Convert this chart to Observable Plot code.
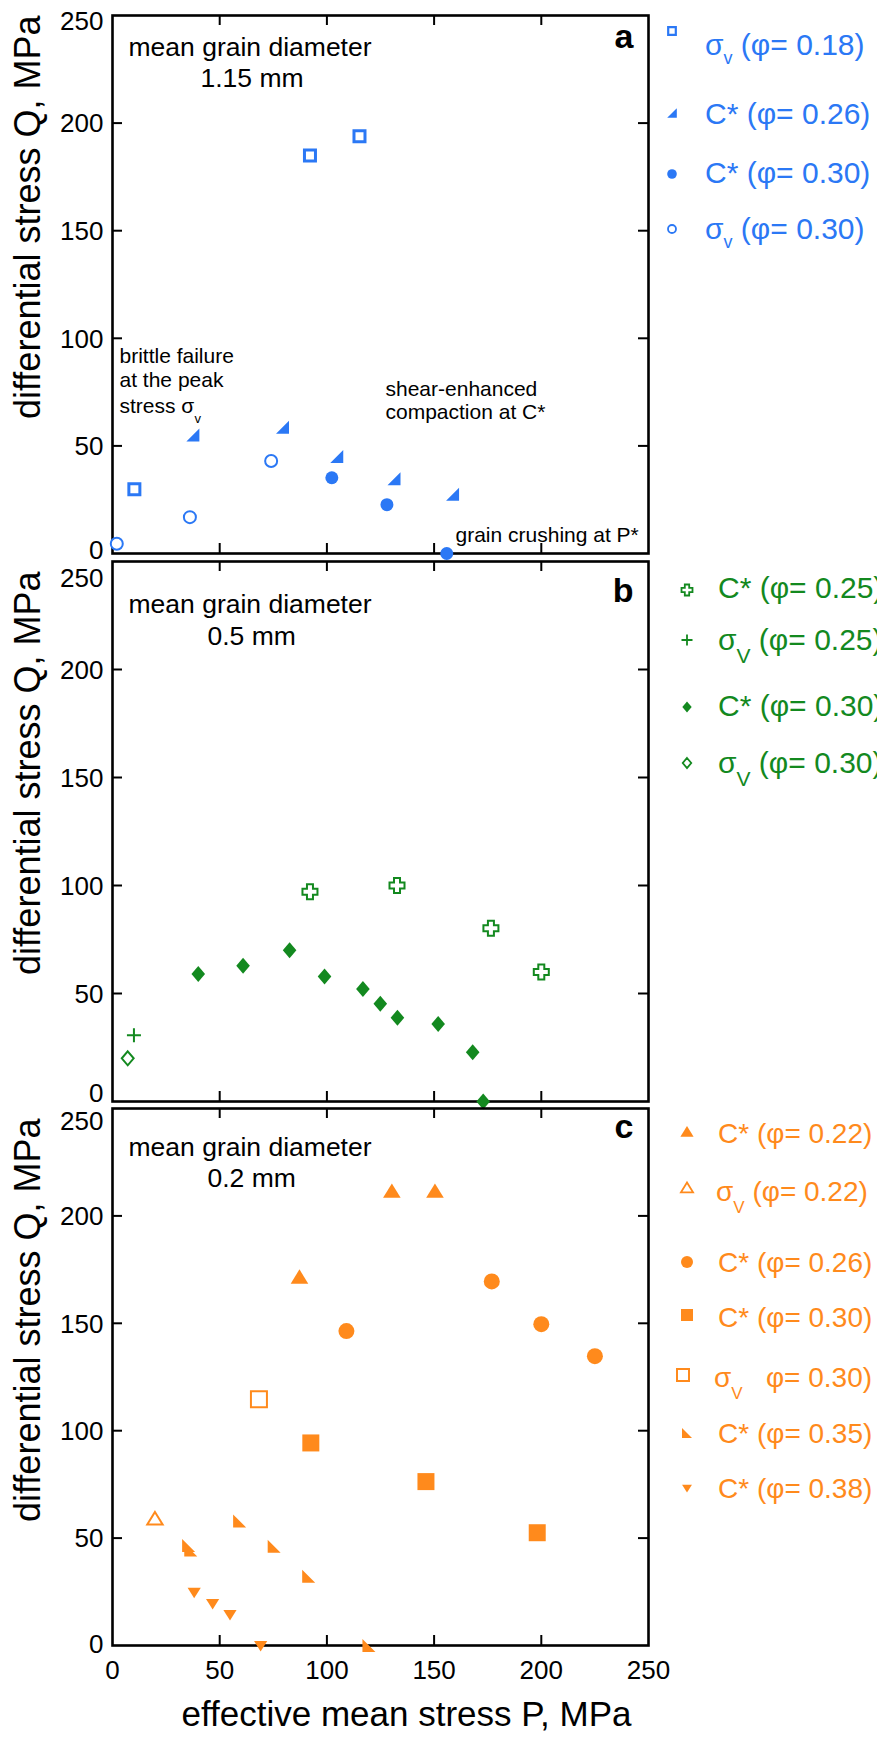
<!DOCTYPE html>
<html>
<head>
<meta charset="utf-8">
<script src="https://cdn.jsdelivr.net/npm/d3@7"></script>
<script src="https://cdn.jsdelivr.net/npm/@observablehq/plot@0.6"></script>
<style>
html,body{margin:0;padding:0;background:#fff;overflow:hidden;}
#root{position:relative;width:877px;height:1739px;overflow:hidden;}
#root svg.panel{position:absolute;left:0;overflow:visible;background:transparent;}
.lg{position:absolute;white-space:nowrap;font-family:"Liberation Sans",Arial,Helvetica,sans-serif;line-height:1.2;}
.lg .sub{position:relative;}
.lm{position:absolute;overflow:visible;}
</style>
</head>
<body>
<div id="root"></div>
<script>
// ---------------- data (x = effective mean stress P, y = differential stress Q, MPa) ----------------
const xTicks = [0, 50, 100, 150, 200, 250];
const yTicks = [0, 50, 100, 150, 200, 250];

// panel a : mean grain diameter 1.15 mm
const aSigma018 = [[10.2, 29.9], [92.1, 184.9], [115.2, 193.9]];
const aCstar026 = [[37.5, 55.1], [79.3, 58.7], [104.6, 45.1], [131.3, 34.7], [158.6, 27.5]];
const aCstar030 = [[102.3, 35.2], [128.0, 22.7], [155.9, 0]];
const aSigma030 = [[2.0, 4.5], [36.1, 16.9], [74.0, 43.0]];

// panel b : mean grain diameter 0.5 mm
const bCstar025 = [[92.1, 97.1], [132.7, 100], [176.5, 80.2], [200, 60]];
const bSigma025 = [[10.0, 30.7]];
const bCstar030 = [[40, 59], [60.9, 62.8], [82.6, 70], [98.9, 57.9], [116.8, 52.1], [124.9, 45.2], [132.9, 38.8], [151.9, 35.9], [168, 22.8], [172.9, 0]];
const bSigma030 = [[7.1, 20]];

// panel c : mean grain diameter 0.2 mm
const cCstar022 = [[87.2, 171.4], [130.3, 211.4], [150.4, 211.4]];
const cSigma022 = [[19.8, 58.9]];
const cCstar026 = [[109.1, 146.4], [176.9, 169.5], [200, 149.6], [225, 134.7]];
const cCstar030 = [[92.5, 94.3], [146.2, 76.3], [198.1, 52.5]];
const cSigma030 = [[68.3, 114.6]];
const cCstar035 = [[35.5, 46.5], [36.5, 44.5], [59.3, 58], [75.4, 46.2], [91.5, 32.2], [119.6, 0]];
const cCstar038 = [[38.1, 24.8], [46.7, 19.5], [54.8, 14.4], [69.1, 0]];

// ---------------- styles ----------------
const FONT = '"Liberation Sans", Arial, Helvetica, sans-serif';
const BLUE = "#2b78f5", GREEN = "#13891f", ORANGE = "#ff8a1c";

const sym = (f) => ({draw(ctx, size) { const r = Math.sqrt(size / Math.PI); f(ctx, r); }});
const S = {
  circle: sym((c, r) => { c.moveTo(r, 0); c.arc(0, 0, r, 0, 2 * Math.PI); c.closePath(); }),
  square: sym((c, r) => { c.rect(-r, -r, 2 * r, 2 * r); }),
  triUp: sym((c, r) => { c.moveTo(0, -r); c.lineTo(r * 1.1, r * 0.8); c.lineTo(-r * 1.1, r * 0.8); c.closePath(); }),
  triDown: sym((c, r) => { c.moveTo(0, r); c.lineTo(r * 1.1, -r * 0.75); c.lineTo(-r * 1.1, -r * 0.75); c.closePath(); }),
  wedgeR: sym((c, r) => { c.moveTo(r, -r); c.lineTo(r, r); c.lineTo(-r, r); c.closePath(); }),
  wedgeL: sym((c, r) => { c.moveTo(-r, -r); c.lineTo(-r, r); c.lineTo(r, r); c.closePath(); }),
  diamond: sym((c, r) => { c.moveTo(0, -r); c.lineTo(r * 0.85, 0); c.lineTo(0, r); c.lineTo(-r * 0.85, 0); c.closePath(); }),
  plus: sym((c, r) => { c.moveTo(-r, 0); c.lineTo(r, 0); c.moveTo(0, -r); c.lineTo(0, r); }),
  crossO: sym((c, r) => { const a = r * 0.4;
    c.moveTo(-a, -r); c.lineTo(a, -r); c.lineTo(a, -a); c.lineTo(r, -a); c.lineTo(r, a); c.lineTo(a, a);
    c.lineTo(a, r); c.lineTo(-a, r); c.lineTo(-a, a); c.lineTo(-r, a); c.lineTo(-r, -a); c.lineTo(-a, -a); c.closePath(); })
};

// series config: style + legend placement (page coordinates)
const panels = [
  {
    svgTop: 0, plotH: 538, mb: 10, titleShift: 0, labelShift: {0: -4, 250: 5},
    letter: "a", letterDy: 32,
    annotations: [
      {t: "mean grain diameter", dx: 16, dy: 40, fs: 26.5},
      {t: "1.15 mm", dx: 88, dy: 71, fs: 26.5},
      {t: "brittle failure", dx: 7, dy: 347, fs: 21},
      {t: "at the peak", dx: 7, dy: 371, fs: 21},
      {t: "stress σ", dx: 7, dy: 397, fs: 21},
      {t: "v", dx: 82, dy: 407, fs: 13},
      {t: "shear-enhanced", dx: 273, dy: 380, fs: 21},
      {t: "compaction at C*", dx: 273, dy: 403, fs: 21},
      {t: "grain crushing at P*", dx: 343, dy: 526, fs: 21}
    ],
    color: BLUE, legendFs: 30, sub: {fs: 18, shift: 9},
    series: [
      {data: aSigma018, sym: "square", r: 5.5, hollow: true, sw: 3, label: ["σ", "v", " (φ= 0.18)"], m: [672, 31, 3.8, 2.2], t: [705, 45]},
      {data: aCstar026, sym: "wedgeR", r: 6.5, label: ["C* (φ= 0.26)"], m: [672, 113, 4.8], t: [705, 114]},
      {data: aCstar030, sym: "circle", r: 6.5, label: ["C* (φ= 0.30)"], m: [672, 174, 4.8], t: [705, 173]},
      {data: aSigma030, sym: "circle", r: 6, hollow: true, sw: 2, label: ["σ", "v", " (φ= 0.30)"], m: [672, 229, 4, 1.8], t: [705, 229]}
    ]
  },
  {
    svgTop: 546, plotH: 540, mb: 10, titleShift: 10, labelShift: {0: -9, 250: 16},
    letter: "b", letterDy: 40,
    annotations: [
      {t: "mean grain diameter", dx: 16, dy: 51, fs: 26.5},
      {t: "0.5 mm", dx: 95, dy: 83, fs: 26.5}
    ],
    color: GREEN, legendFs: 30, sub: {fs: 21, shift: 13},
    series: [
      {data: bCstar025, sym: "crossO", r: 7.5, hollow: true, sw: 2, label: ["C* (φ= 0.25)"], m: [687, 590, 5.5, 1.8], t: [718, 588]},
      {data: bSigma025, sym: "plus", r: 7, line: true, sw: 2, label: ["σ", "V", " (φ= 0.25)"], m: [687, 640, 5.5, 1.8], t: [718, 640]},
      {data: bCstar030, sym: "diamond", r: 8, label: ["C* (φ= 0.30)"], m: [687, 707, 5.5], t: [718, 706]},
      {data: bSigma030, sym: "diamond", r: 7, hollow: true, sw: 2, label: ["σ", "V", " (φ= 0.30)"], m: [687, 763, 5, 1.8], t: [718, 763]}
    ]
  },
  {
    svgTop: 1093, plotH: 537, mb: 94, titleShift: 10, labelShift: {0: -2, 250: 12},
    letter: "c", letterDy: 29, xAxis: true,
    annotations: [
      {t: "mean grain diameter", dx: 16, dy: 47, fs: 26.5},
      {t: "0.2 mm", dx: 95, dy: 78, fs: 26.5}
    ],
    color: ORANGE, legendFs: 28, sub: {fs: 17, shift: 12},
    series: [
      {data: cCstar022, sym: "triUp", r: 8, label: ["C* (φ= 0.22)"], m: [687, 1132, 6], t: [718, 1133]},
      {data: cSigma022, sym: "triUp", r: 7, hollow: true, sw: 2, label: ["σ", "V", " (φ= 0.22)"], m: [687, 1188, 5.5, 1.8], t: [716, 1191]},
      {data: cCstar026, sym: "circle", r: 8, label: ["C* (φ= 0.26)"], m: [687, 1262, 6], t: [718, 1262]},
      {data: cCstar030, sym: "square", r: 8.5, label: ["C* (φ= 0.30)"], m: [687, 1315, 6], t: [718, 1317]},
      {data: cSigma030, sym: "square", r: 8, hollow: true, sw: 2, label: ["σ", "V", "\u00a0\u00a0 φ= 0.30)"], m: [683, 1375, 6, 2], t: [714, 1377]},
      {data: cCstar035, sym: "wedgeL", r: 6.5, label: ["C* (φ= 0.35)"], m: [687, 1433, 5], t: [718, 1433]},
      {data: cCstar038, sym: "triDown", r: 6, label: ["C* (φ= 0.38)"], m: [687, 1488, 4.5], t: [718, 1488]}
    ]
  }
];

const W = 877, ML = 112, MR = 877 - 648, PW = W - ML - MR, MT = 15;
const root = document.getElementById("root");

for (const p of panels) {
  const H = MT + p.plotH + p.mb;
  const marks = [];
  // inward ticks on all four sides
  const inner = [50, 100, 150, 200];
  marks.push(Plot.tickY(inner, {y: d => d, insetRight: PW - 10, stroke: "#000", strokeWidth: 2}));
  marks.push(Plot.tickY(inner, {y: d => d, insetLeft: PW - 10, stroke: "#000", strokeWidth: 2}));
  marks.push(Plot.tickX(inner, {x: d => d, insetBottom: p.plotH - 10, stroke: "#000", strokeWidth: 2}));
  marks.push(Plot.tickX(inner, {x: d => d, insetTop: p.plotH - 10, stroke: "#000", strokeWidth: 2}));
  marks.push(Plot.frame({stroke: "#000", strokeWidth: 2.6}));
  // y tick labels (end labels nudged away from the neighbouring panels, as in the original)
  for (const v of yTicks) {
    marks.push(Plot.text([v], {y: d => d, text: d => String(d), frameAnchor: "left", textAnchor: "end", dx: -9,
      dy: 1 + (p.labelShift[v] || 0), fontSize: 26, fontFamily: FONT, fill: "#000"}));
  }
  // y title
  marks.push(Plot.text(["differential stress Q, MPa"], {text: d => d, frameAnchor: "top-left", rotate: -90, textAnchor: "end",
    lineAnchor: "middle", dx: -84, dy: p.titleShift, fontSize: 36, fontFamily: FONT, fill: "#000"}));
  // panel letter
  marks.push(Plot.text([p.letter], {text: d => d, frameAnchor: "top-right", textAnchor: "end", lineAnchor: "bottom",
    dx: -15, dy: p.letterDy, fontSize: 34, fontWeight: "bold", fontFamily: FONT, fill: "#000"}));
  // annotations
  for (const a of p.annotations) {
    marks.push(Plot.text([a.t], {text: d => d, frameAnchor: "top-left", textAnchor: "start", lineAnchor: "bottom",
      dx: a.dx, dy: a.dy, fontSize: a.fs, fontFamily: FONT, fill: "#000"}));
  }
  if (p.xAxis) {
    marks.push(Plot.text(xTicks, {x: d => d, text: d => String(d), frameAnchor: "bottom", lineAnchor: "top", dy: 15,
      fontSize: 26, fontFamily: FONT, fill: "#000"}));
    marks.push(Plot.text(["effective mean stress P, MPa"], {text: d => d, frameAnchor: "bottom", lineAnchor: "middle",
      dx: 26, dy: 69, fontSize: 35, fontFamily: FONT, fill: "#000"}));
  }
  // data
  for (const s of p.series) {
    const opts = {x: d => d[0], y: d => d[1], symbol: S[s.sym], r: s.r};
    if (s.line) Object.assign(opts, {fill: "none", stroke: p.color, strokeWidth: s.sw});
    else if (s.hollow) Object.assign(opts, {fill: "#fff", stroke: p.color, strokeWidth: s.sw});
    else Object.assign(opts, {fill: p.color, stroke: "none"});
    marks.push(Plot.dot(s.data, opts));
  }
  const svg = Plot.plot({
    width: W, height: H,
    marginLeft: ML, marginRight: MR, marginTop: MT, marginBottom: p.mb,
    x: {domain: [0, 250], axis: null},
    y: {domain: [0, 250], axis: null},
    style: {background: "transparent", overflow: "visible", fontFamily: FONT},
    marks
  });
  svg.classList.add("panel");
  svg.style.top = p.svgTop + "px";
  root.appendChild(svg);

  // legend (HTML)
  for (const s of p.series) {
    const [mx, my, lr, lsw] = s.m;
    const ms = d3.select(root).append("svg").attr("class", "lm")
      .attr("width", 24).attr("height", 24)
      .style("left", (mx - 12) + "px").style("top", (my - 12) + "px");
    const path = ms.append("path").attr("transform", "translate(12,12)")
      .attr("d", d3.symbol(S[s.sym], Math.PI * lr * lr)());
    if (s.line) path.attr("fill", "none").attr("stroke", p.color).attr("stroke-width", lsw);
    else if (s.hollow) path.attr("fill", "#fff").attr("stroke", p.color).attr("stroke-width", lsw);
    else path.attr("fill", p.color);
    const fs = p.legendFs;
    const div = d3.select(root).append("div").attr("class", "lg")
      .style("left", s.t[0] + "px").style("top", (s.t[1] - 0.588 * fs) + "px")
      .style("font-size", fs + "px").style("color", p.color);
    if (s.label.length === 1) div.text(s.label[0]);
    else {
      div.append("span").text(s.label[0]);
      div.append("span").attr("class", "sub").style("font-size", p.sub.fs + "px").style("top", p.sub.shift + "px").text(s.label[1]);
      div.append("span").text(s.label[2]);
    }
  }
}
</script>
</body>
</html>
